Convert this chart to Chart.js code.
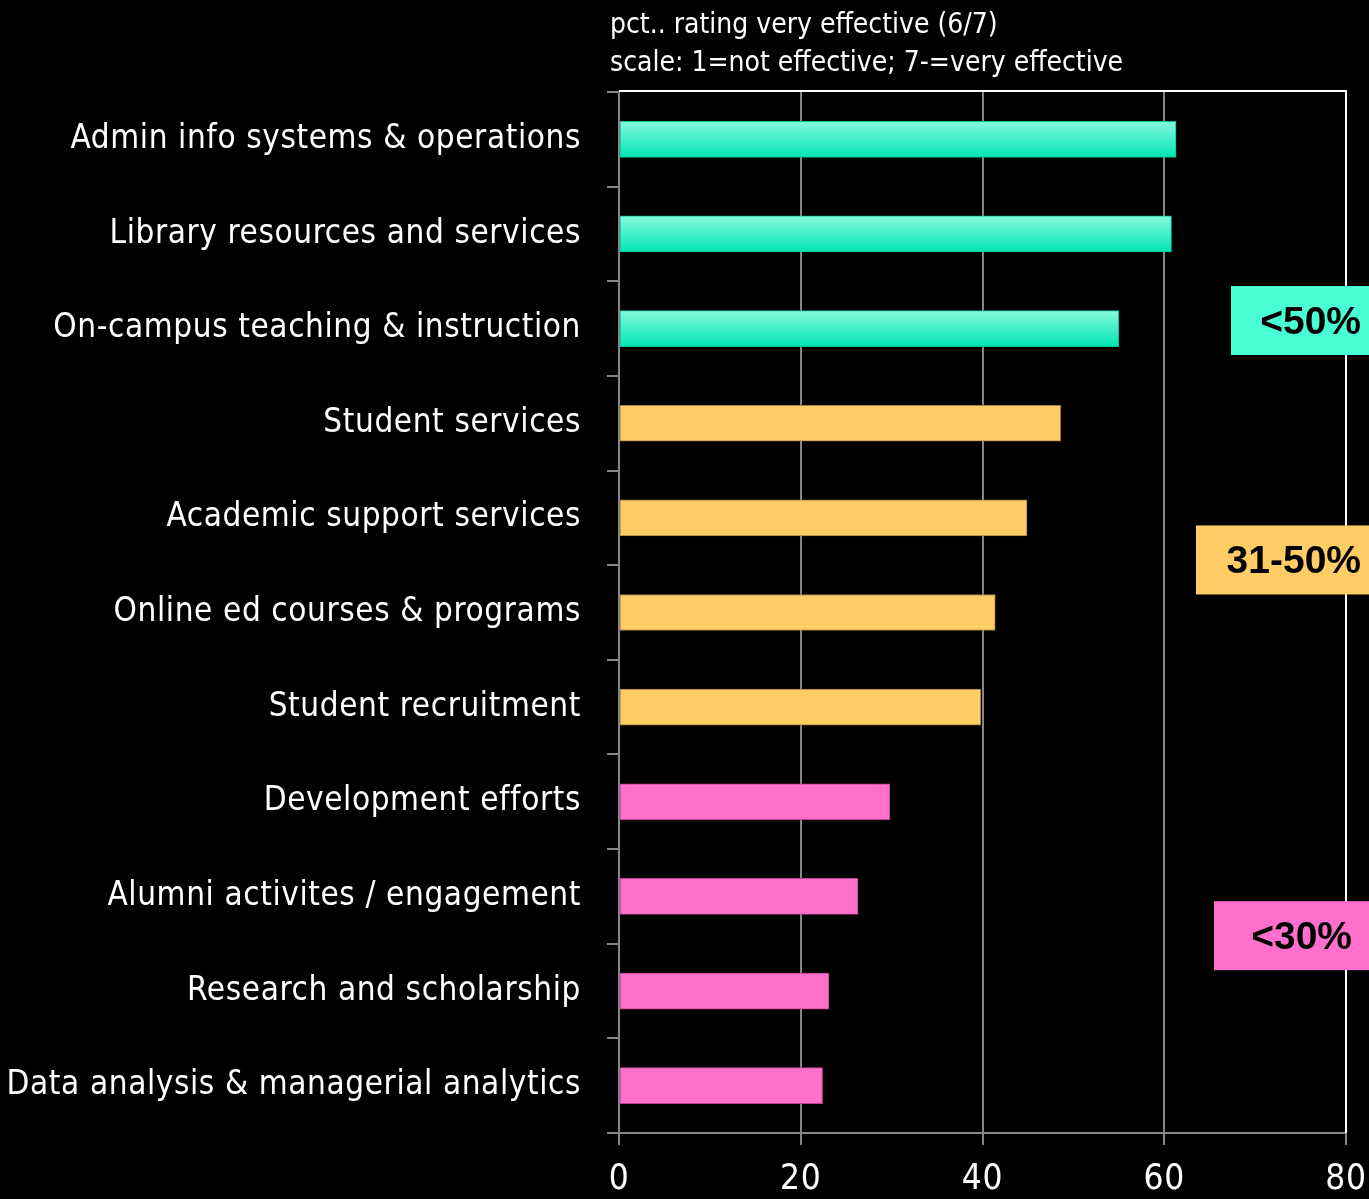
<!DOCTYPE html>
<html>
<head>
<meta charset="utf-8">
<script src="https://cdn.jsdelivr.net/npm/chart.js@4.4.1/dist/chart.umd.min.js"></script>
<style>
  html, body { margin: 0; padding: 0; background: #000; }
  #grafico { display: block; }
</style>
</head>
<body>
<canvas id="grafico" width="1369" height="1199"></canvas>
<script>
// categorias (de cima para baixo)
const categorias = [
    'Admin info systems & operations',
    'Library resources and services',
    'On-campus teaching & instruction',
    'Student services',
    'Academic support services',
    'Online ed courses & programs',
    'Student recruitment',
    'Development efforts',
    'Alumni activites / engagement',
    'Research and scholarship',
    'Data analysis & managerial analytics'
]
// pct rating very effective
const valores = [61.3, 60.8, 55.0, 48.6, 44.9, 41.4, 39.8, 29.8, 26.3, 23.1, 22.4]
// grupo de cada barra: 0 = >50%, 1 = 31-50%, 2 = <30%
const grupos = [0, 0, 0, 1, 1, 1, 1, 2, 2, 2, 2]
const rotulosGrupo = ['<50%', '31-50%', '<30%']
const tituloLinhas = ['pct.. rating very effective (6/7)', 'scale: 1=not effective; 7-=very effective']
const ticksX = [0, 20, 40, 60, 80]

const FONTE = "'Liberation Sans Narrow', 'Arial Narrow', 'DejaVu Sans Condensed', sans-serif"
const corGrupo = ['#4bffd4', '#ffcc66', '#ff70cc']
const bordaGrupo = ['#00c090', '#a08040', '#c04090']
const CINZA = '#858585'

function corBarra(ctx){
    const g = grupos[ctx.dataIndex]
    if(g !== 0) return corGrupo[g]
    const chart = ctx.chart
    const yc = chart.scales.y ? chart.scales.y.getPixelForValue(ctx.dataIndex) : NaN
    if(!isFinite(yc)) return corGrupo[0]
    const grad = chart.ctx.createLinearGradient(0, yc - 18, 0, yc + 18)
    grad.addColorStop(0, '#86f9de')
    grad.addColorStop(1, '#00e6b4')
    return grad
}

// titulo, moldura e caixas dos grupos
const extras = {
    id: 'extras',
    beforeDraw(chart){
        // um pouco de espaço entre as letras, como na fonte original
        chart.ctx.letterSpacing = '0.6px'
    },
    afterDraw(chart){
        const c = chart.ctx
        const a = chart.chartArea
        const y = chart.scales.y
        c.save()
        c.letterSpacing = '0px'
        // moldura branca (topo e direita)
        c.strokeStyle = '#ffffff'
        c.lineWidth = 2
        c.beginPath()
        c.moveTo(a.left, a.top - 1)
        c.lineTo(a.right, a.top - 1)
        c.lineTo(a.right, a.bottom)
        c.stroke()

        // titulo
        c.fillStyle = '#ffffff'
        c.font = '28px ' + FONTE
        c.textAlign = 'left'
        c.textBaseline = 'middle'
        c.fillText(tituloLinhas[0], a.left - 9, 26)
        c.fillText(tituloLinhas[1], a.left - 9, 64)

        // caixas dos grupos
        const posicoes = [2 - 0.08, 4.45, 8.42]
        const larguras = [138, 173, 155]
        const margens = [8, 8, 17]
        c.font = 'bold 39px "Liberation Sans", Arial, sans-serif'
        c.textAlign = 'right'
        for(let i = 0; i < rotulosGrupo.length; i++){
            const yc = y.getPixelForValue(posicoes[i])
            c.fillStyle = corGrupo[i]
            c.fillRect(chart.width - larguras[i], yc - 35, larguras[i], 69)
            c.fillStyle = '#000000'
            c.fillText(rotulosGrupo[i], chart.width - margens[i], yc + 2)
        }
        c.restore()
    }
}

const ctx = document.getElementById('grafico').getContext('2d')
const grafico = new Chart(ctx, {
    type: 'bar',
    data: {
        labels: categorias,
        datasets: [{
            data: valores,
            backgroundColor: corBarra,
            borderColor: (c) => bordaGrupo[grupos[c.dataIndex]],
            borderWidth: 1,
            borderSkipped: false,
            barThickness: 36
        }]
    },
    plugins: [extras],
    options: {
        indexAxis: 'y',
        responsive: false,
        animation: false,
        layout: { padding: { top: 92, right: 23, left: 0, bottom: 0 } },
        plugins: {
            legend: { display: false },
            tooltip: { enabled: false }
        },
        scales: {
            x: {
                min: 0,
                max: 80,
                afterBuildTicks: (s) => { s.ticks = ticksX.map(v => ({ value: v })) },
                afterFit: (s) => {
                    s.height = 66
                    s.paddingLeft = 0
                    s.paddingRight = 0
                },
                grid: {
                    color: (c) => c.tick && c.tick.value === 80 ? 'rgba(0,0,0,0)' : CINZA,
                    tickColor: CINZA,
                    lineWidth: 2,
                    tickLength: 12
                },
                border: { color: CINZA, width: 2 },
                ticks: {
                    color: '#ffffff',
                    font: { family: FONTE, size: 35 },
                    padding: 14
                }
            },
            y: {
                afterFit: (s) => { s.width = 619 },
                grid: {
                    offset: true,
                    drawOnChartArea: false,
                    color: CINZA,
                    lineWidth: 2,
                    tickLength: 12
                },
                border: { color: CINZA, width: 2 },
                ticks: {
                    color: '#ffffff',
                    font: { family: FONTE, size: 33 },
                    padding: 26
                }
            }
        }
    }
})
</script>
</body>
</html>
